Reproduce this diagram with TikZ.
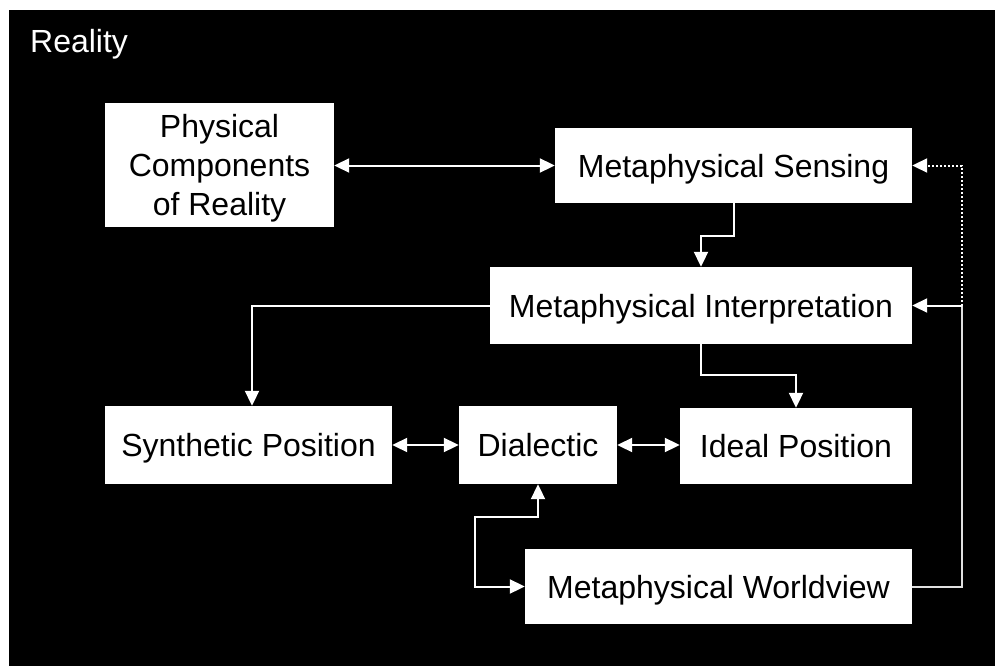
\documentclass[tikz,border=0pt]{standalone}
\usepackage{fontspec}
\setmainfont{Liberation Sans}
\usetikzlibrary{arrows.meta,calc}
\begin{document}
\begin{tikzpicture}[x=1pt,y=-1pt,
  box/.style={draw=none,fill=white,text=black,inner sep=0pt,align=center,
    font=\fontsize{32}{39}\selectfont,text depth=0pt},
  oneline/.style={box,text height=23pt},
  link/.style={draw=white,line width=2pt},
  tip/.tip={Triangle[length=15pt,width=14pt]},
  arr/.style={link,-tip},
  twoway/.style={link,tip-tip},
  dotline/.style={dash pattern=on 2pt off 2pt},
  fineline/.style={draw=white!88!black}]
% page and dark backdrop
\fill[white] (0,0) rectangle (995,666);
\fill[black] (9,10) rectangle (995,666);
\useasboundingbox (0,0) rectangle (995,666);

\node[anchor=base west,inner sep=0pt,text=white,font=\fontsize{32}{39}\selectfont]
  (title) at (30,53) {Reality};

% boxes
\node[box,minimum width=229pt,minimum height=124pt] (phys) at (219.5,165) {Physical\\Components\\of Reality};
\node[oneline,minimum width=357pt,minimum height=75pt] (sense) at (733.5,165.5) {Metaphysical Sensing};
\node[oneline,minimum width=422pt,minimum height=77pt] (interp) at (701,305.5) {Metaphysical Interpretation};
\node[oneline,minimum width=287pt,minimum height=78pt] (synth) at (248.5,445) {Synthetic Position};
\node[oneline,minimum width=158pt,minimum height=78pt] (dial) at (538,445) {Dialectic};
\node[oneline,minimum width=232pt,minimum height=76pt] (ideal) at (796,446) {Ideal Position};
\node[oneline,minimum width=387pt,minimum height=75pt] (world) at (718.5,586.5) {Metaphysical Worldview};

% connectors
\draw[twoway] (phys.east |- sense.west) -- (sense.west);
\draw[arr] (sense.south) -- ++(0,33) -| (interp.north);
\draw[arr] (interp.south) -- ++(0,31) -| (ideal.north);
\draw[arr] (interp.west) -| ($(synth.north)+(3.5,0)$);
\draw[twoway] (synth.east) -- (dial.west);
\draw[twoway] (dial.east) -- (ideal.west |- dial.east);
\draw[twoway] (world.west) -- ++(-50,0) -- ++(0,-69.5) -| (dial.south);

\coordinate (rj) at (962,305.5);
\draw[link,fineline] (world.east) -| (rj);
\draw[arr] (rj) -- (interp.east);
\draw[arr,dotline] (rj) |- (sense.east);
\end{tikzpicture}
\end{document}
